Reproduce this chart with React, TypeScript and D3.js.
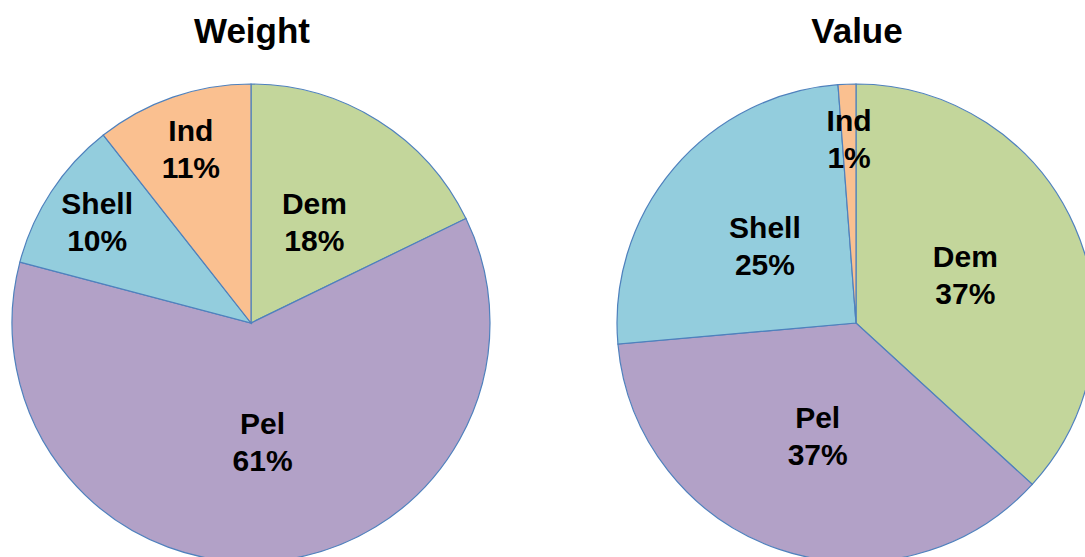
import React from "react"
import * as d3 from "d3"

const width = 1085
const height = 557

const categories = ["Dem", "Pel", "Shell", "Ind"]
const weightShares = [17.8, 61.3, 10.3, 10.6]
const valueShares = [36.8, 36.8, 25.2, 1.2]
const titles = ["Weight", "Value"]
const colors = ["#C3D69B", "#B2A1C7", "#93CDDD", "#FAC090"]

const radius = 239
const centers = [251, 856]
const cy = 323

type Slice = { key: string; value: number }

const Pie = ({ cx, title, values }: { cx: number; title: string; values: number[] }) => {
  const color = d3.scaleOrdinal<string, string>().domain(categories).range(colors)
  const pie = d3
    .pie<Slice>()
    .sort(null)
    .value(d => d.value)
  const arc = d3.arc<d3.PieArcDatum<Slice>>().innerRadius(0).outerRadius(radius)
  const items = pie(categories.map((key, i) => ({ key, value: values[i] })))
  const total = d3.sum(values)

  return (
    <g>
      <text
        x={cx + 1}
        y={43}
        textAnchor="middle"
        style={{ fontFamily: "Liberation Sans, Arial, sans-serif", fontWeight: "bold", fontSize: 35 }}
      >
        {title}
      </text>
      <g transform={`translate(${cx}, ${cy})`}>
        {items.map(el => (
          <path
            key={el.data.key}
            d={arc(el) || ""}
            style={{ fill: color(el.data.key), stroke: "#4F81BD", strokeWidth: 1.2 }}
          />
        ))}
        {items.map(el => {
          const share = (el.data.value / total) * 100
          // small slices get their label pushed outward
          const r = share < 12 ? radius * 0.77 : radius * 0.5
          const [x, y] = d3.arc<d3.PieArcDatum<Slice>>().innerRadius(r).outerRadius(r).centroid(el)
          return (
            <text
              key={el.data.key}
              textAnchor="middle"
              style={{ fontFamily: "Liberation Sans, Arial, sans-serif", fontWeight: "bold", fontSize: 30 }}
            >
              <tspan x={x} y={y - 8}>{el.data.key}</tspan>
              <tspan x={x} y={y + 29}>{`${Math.round(share)}%`}</tspan>
            </text>
          )
        })}
      </g>
    </g>
  )
}

export default function App() {
  return (
    <svg
      width={width}
      height={height}
      style={{ position: "absolute", left: 0, top: 0, background: "#fff" }}
    >
      <Pie cx={centers[0]} title={titles[0]} values={weightShares} />
      <Pie cx={centers[1]} title={titles[1]} values={valueShares} />
    </svg>
  )
}
